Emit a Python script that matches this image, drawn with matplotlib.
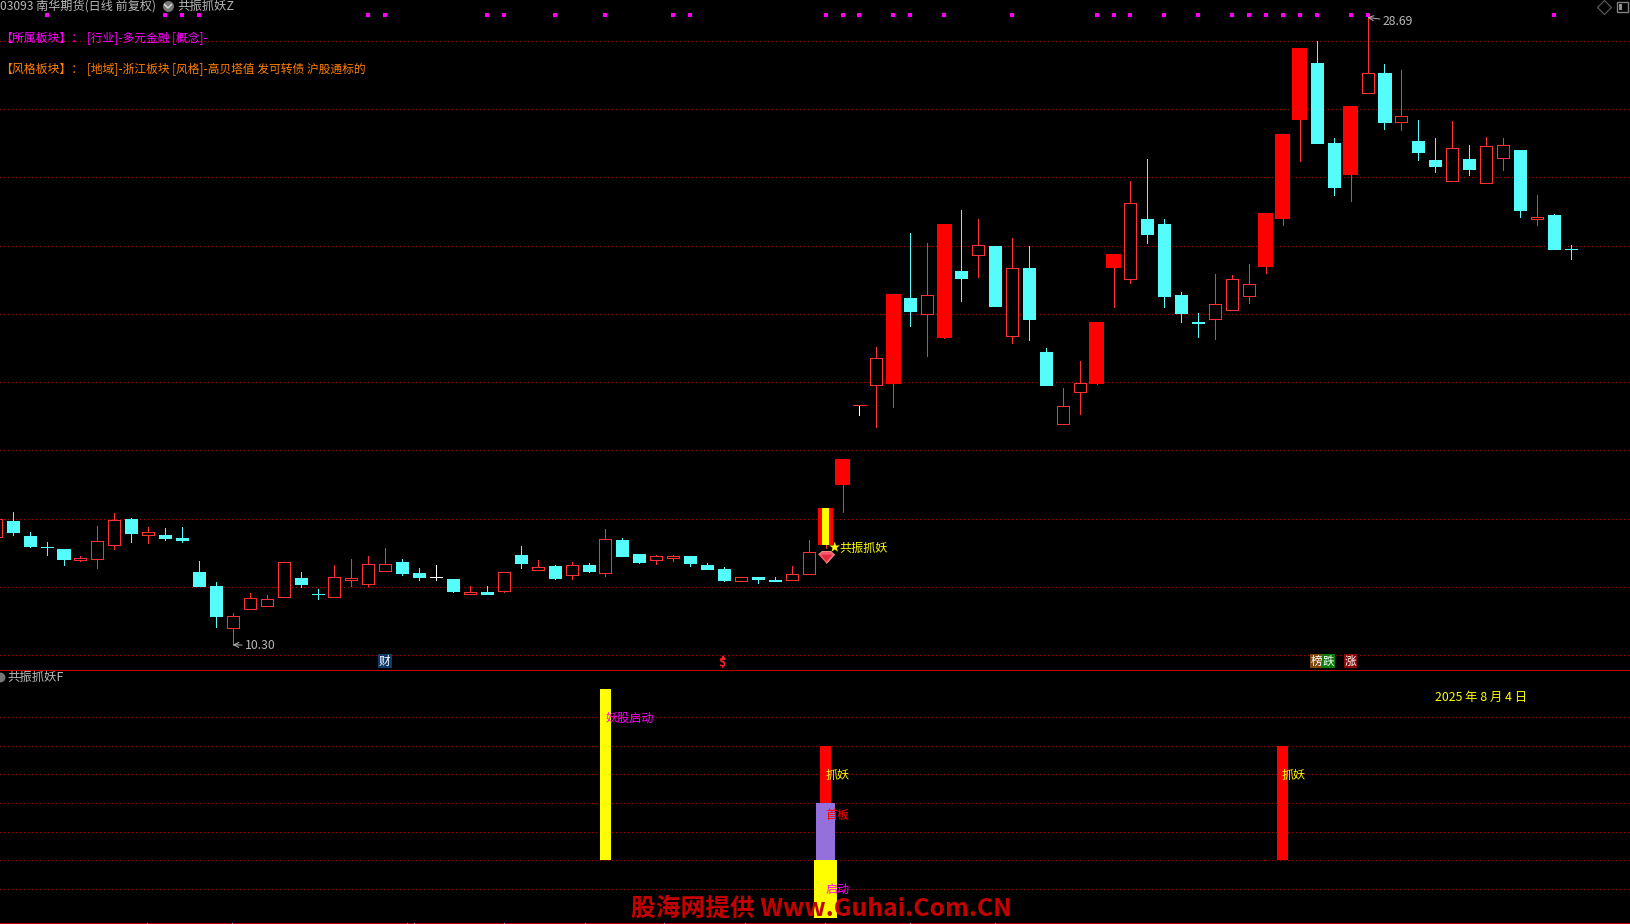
import matplotlib
matplotlib.use('Agg')
import numpy as np
import matplotlib.pyplot as plt
from matplotlib.patches import Rectangle

plt.rcParams['font.family'] = ['Noto Sans CJK SC', 'DejaVu Sans']

# daily candles, one value per session
opens = [13.45, 13.94, 13.50, 13.17, 13.12, 12.79, 12.80, 13.21, 14.00, 13.51,
         13.53, 13.44, 12.44, 12.03, 10.78, 11.34, 11.43, 11.69, 12.27, 11.80,
         11.69, 12.21, 12.07, 12.45, 12.74, 12.41, 12.30, 12.24, 11.80, 11.85,
         11.88, 12.94, 12.50, 12.62, 12.35, 12.65, 12.39, 13.38, 12.97, 12.77,
         12.83, 12.91, 12.65, 12.53, 12.16, 12.30, 12.21, 12.19, 12.36, 13.23,
         14.97, 17.33, 17.90, 17.95, 20.47, 19.99, 19.30, 21.27, 21.72, 22.00,
         19.34, 21.35, 18.89, 16.76, 17.70, 17.95, 21.33, 21.01, 22.79, 22.62,
         20.56, 19.77, 19.84, 20.11, 20.52, 21.38, 22.79, 25.69, 27.34, 25.02,
         24.08, 26.47, 27.07, 25.62, 25.08, 24.52, 23.89, 24.55, 23.83, 24.56,
         24.81, 22.79, 22.91, 21.91]
highs = [14.06, 14.20, 13.61, 13.32, 13.12, 12.91, 13.79, 14.17, 14.02, 13.76,
         13.73, 13.76, 12.76, 12.15, 11.24, 11.83, 11.77, 12.73, 12.44, 11.94,
         12.65, 12.82, 12.91, 13.15, 12.82, 12.56, 12.65, 12.24, 12.03, 12.03,
         12.43, 13.18, 12.79, 12.65, 12.74, 12.71, 13.70, 13.44, 12.97, 12.94,
         12.94, 12.91, 12.71, 12.59, 12.29, 12.30, 12.30, 12.62, 13.38, 14.32,
         15.75, 17.33, 19.04, 20.59, 22.38, 22.09, 22.64, 23.03, 22.79, 22.00,
         22.23, 22.00, 19.01, 17.84, 18.63, 19.77, 21.76, 23.90, 24.55, 22.79,
         20.65, 20.01, 21.18, 21.15, 21.47, 22.97, 25.28, 27.80, 28.00, 25.14,
         26.10, 28.69, 27.31, 27.16, 25.69, 25.14, 25.66, 24.96, 25.19, 25.14,
         24.81, 23.49, 22.94, 22.03]
lows = [13.45, 13.53, 13.17, 12.94, 12.65, 12.76, 12.56, 13.12, 13.32, 13.29,
        13.38, 13.32, 12.03, 10.83, 10.30, 11.34, 11.43, 11.69, 12.00, 11.65,
        11.69, 12.03, 12.03, 12.45, 12.35, 12.21, 12.21, 11.85, 11.80, 11.80,
        11.85, 12.56, 12.50, 12.24, 12.24, 12.44, 12.32, 12.91, 12.71, 12.68,
        12.76, 12.62, 12.53, 12.18, 12.16, 12.12, 12.18, 12.19, 12.36, 13.14,
        14.18, 17.02, 16.67, 17.28, 19.63, 18.77, 19.30, 20.39, 21.09, 20.24,
        19.14, 19.24, 17.90, 16.76, 17.07, 17.95, 20.21, 20.91, 22.09, 20.21,
        19.77, 19.33, 19.27, 20.11, 20.33, 21.21, 22.59, 24.49, 25.02, 23.47,
        23.32, 26.47, 25.43, 25.40, 24.52, 24.17, 23.89, 24.08, 23.83, 24.23,
        22.85, 22.59, 21.91, 21.62]
closes = [14.00, 13.61, 13.20, 13.17, 12.82, 12.85, 13.34, 13.96, 13.59, 13.60,
          13.44, 13.38, 12.03, 11.15, 11.14, 11.67, 11.64, 12.73, 12.09, 11.80,
          12.29, 12.27, 12.67, 12.67, 12.41, 12.30, 12.30, 11.88, 11.85, 11.80,
          12.43, 12.71, 12.58, 12.27, 12.64, 12.47, 13.40, 12.91, 12.73, 12.90,
          12.90, 12.71, 12.53, 12.21, 12.29, 12.24, 12.18, 12.38, 13.02, 14.32,
          15.75, 17.33, 18.71, 20.59, 20.09, 20.55, 22.64, 21.06, 22.02, 20.24,
          21.34, 19.86, 17.90, 17.30, 17.98, 19.77, 21.76, 23.25, 22.35, 20.53,
          20.01, 19.72, 20.29, 21.02, 20.88, 22.97, 25.28, 27.80, 25.02, 23.73,
          26.10, 27.06, 25.63, 25.80, 24.73, 24.34, 24.86, 24.26, 24.92, 24.95,
          23.05, 22.85, 21.91, 21.91]

limit_up = [49, 50, 53, 56, 65, 66, 75, 76, 77, 80]
flat_white = [26]
flat_red = [51]
signal_day = 49
top_dots = [3, 10, 11, 12, 22, 23, 29, 30, 33, 36, 40, 41, 49, 50, 51, 53, 54, 56,
            60, 65, 66, 67, 69, 71, 73, 74, 75, 76, 77, 78, 80, 81, 92]
price_grid = [10, 12, 14, 16, 18, 20, 22, 24, 26, 28]

# lower indicator columns
sub_x = [36, 49, 49, 49, 76]
sub_bottom = [2, 0, 2, 4, 2]
sub_top = [8, 2, 4, 6, 6]
sub_colors = ['#FFFF00', '#FFFF00', '#9370DB', '#FF0000', '#FF0000']
sub_width = [0.65, 1.36, 1.12, 0.65, 0.65]
sub_grid = [1, 2, 3, 4, 5, 6, 7]

W, H = 1631, 924
RED = '#FF3232'
CYAN = '#54FCFC'
GRID = '#A80000'
GREY = '#B8B8B8'

fig = plt.figure(figsize=(W / 100, H / 100), dpi=100, facecolor='black')

ax = fig.add_axes([0, 1 - 669.3 / H, 1, 669.3 / H], facecolor='black')
ax2 = fig.add_axes([0, 1 - 922.3 / H, 1, (922.3 - 669.3) / H], facecolor='black')
px = fig.add_axes([0, 0, 1, 1], facecolor='none')

for a in (ax, ax2):
    a.set_xlim(0.25, 96.555)
    a.set_xticks([])
    a.set_yticks([])
    for s in a.spines.values():
        s.set_visible(False)
ax.set_ylim(9.58, 29.20)
ax2.set_ylim(-0.165, 8.675)
px.set_xlim(0, W)
px.set_ylim(H, 0)
px.axis('off')

for p in price_grid:
    ax.axhline(p, color=GRID, lw=0.72, ls=(0, (1, 3)), antialiased=False, zorder=1)
for p in sub_grid:
    ax2.axhline(p, color=GRID, lw=0.72, ls=(0, (1, 3)), antialiased=False, zorder=1)

# candles
for i in range(len(opens)):
    o, h, l, c = opens[i], highs[i], lows[i], closes[i]
    if i in flat_white:
        wick = body = 'white'
    elif i in flat_red:
        wick, body = 'white', RED
    elif i in limit_up:
        wick, body = RED, '#FF0000'
    elif c > o:
        wick = body = RED
    else:
        wick = body = CYAN
    ax.vlines(i, l, h, color=wick, lw=0.72, antialiased=False, zorder=2)
    if i in limit_up:
        ax.bar(i, c - o, bottom=o, width=0.89, color='#FF0000', linewidth=0,
               antialiased=False, zorder=3)
    elif c > o and i not in flat_red:
        ax.bar(i, c - o, bottom=o, width=0.71, facecolor='black', edgecolor=body,
               linewidth=0.72, antialiased=False, zorder=3)
    else:
        ax.bar(i, c - o, bottom=o, width=0.71, facecolor=body, edgecolor=body,
               linewidth=0.72, antialiased=False, zorder=3)

# stripe on the signal day
ax.bar(signal_day, closes[signal_day] - opens[signal_day], bottom=opens[signal_day],
       width=0.42, color='#FFFF00', linewidth=0, antialiased=False, zorder=4)

# limit dots along the top
ax.plot(top_dots, [28.77] * len(top_dots), ls='none', marker='s', ms=2.4,
        color='#FF00FF', mew=0, zorder=5)

# gem under the signal candle
gem = [(-1, 0.35), (-0.55, 0.75), (0.55, 0.75), (1, 0.35), (0, -0.75)]
facet = [(-0.6, 0.3), (0.6, 0.3), (0, -0.45)]
ax.plot([signal_day], [12.88], ls='none', marker=gem, ms=11.5, mfc='#F45A6A',
        mec='#FFA0A0', mew=0.6, zorder=5)
ax.plot([signal_day], [12.88], ls='none', marker=facet, ms=8, mfc='#E8283C',
        mec='none', zorder=6)

ax.annotate('10.30', xy=(14, 10.30), xytext=(12, -1), textcoords='offset pixels',
            color=GREY, fontsize=8.8, va='center',
            arrowprops=dict(arrowstyle='->', color=GREY, lw=0.7, shrinkA=0, shrinkB=0))
ax.annotate('28.69', xy=(81, 28.69), xytext=(15, -4), textcoords='offset pixels',
            color=GREY, fontsize=8.8, va='center',
            arrowprops=dict(arrowstyle='->', color=GREY, lw=0.7, shrinkA=0, shrinkB=0))

# indicator panel
for x, b, t, col, w in zip(sub_x, sub_bottom, sub_top, sub_colors, sub_width):
    ax2.bar(x, t - b, bottom=b, width=w, color=col, linewidth=0,
            antialiased=False, zorder=2)

# frame lines
px.plot([0, W], [669.5, 669.5], color='#C00000', lw=0.72, antialiased=False)
px.plot([0, W], [922.5, 922.5], color='#C00000', lw=0.72, antialiased=False)
px.plot([232, 407], [923.5, 923.5], color='#2020C0', lw=0.72, antialiased=False)
for tx in [147, 232, 407, 414, 504, 585, 664, 745, 825, 910, 995]:
    px.plot([tx, tx], [922.5, 924], color=GREY, lw=0.7, antialiased=False)


def label(x, y, s, color, size=8.7, **kw):
    px.text(x, y, s, color=color, fontsize=size, va='center', ha='left', zorder=10, **kw)


# header
label(0, 6, '03093 南华期货(日线 前复权)', GREY, size=8.7)
px.scatter([168], [6], s=62, color='#777777', linewidth=0)
px.plot([164.5, 168, 171.5], [4.5, 8, 4.5], color='#DDDDDD', lw=1)
label(177, 6, '共振抓妖Z', GREY, size=8.9)
label(0, 38, '【所属板块】：', '#FF00FF', size=8.6)
label(86.7, 38, '[行业]-多元金融 [概念]-', '#FF00FF', size=8.5)
label(0, 69.7, '【风格板块】：', '#FF8000', size=8.6)
label(86.7, 69.7, '[地域]-浙江板块 [风格]-高贝塔值 发可转债 沪股通标的', '#FF8000', size=8.5)

# top right buttons
px.plot([1604], [6.5], marker='D', ms=7.5, mfc='none', mec='#606060', mew=0.8)
px.add_patch(Rectangle((1617.5, 1.5), 11, 10, fc='none', ec='#808080', lw=1))
px.add_patch(Rectangle((1619.5, 3.5), 3, 6, fc='#909090', ec='none'))

# signal text
label(829, 548, '★', '#FFFF00', size=8.2)
label(839, 548, '共振抓妖', '#FFFF00')

# event tags
label(379, 661, '财', 'white', size=8.4,
      bbox=dict(boxstyle='square,pad=0.08', fc='#103A6A', ec='none'))
label(718.5, 663, '$', '#FF2020', size=9, fontweight='bold')
px.plot([722.7], [657], marker='^', ms=3.5, color='#FF2020', mew=0)
label(1310.5, 661, '榜', 'white', size=8.4,
      bbox=dict(boxstyle='square,pad=0.05', fc='#7A4A10', ec='none'))
label(1322.8, 661, '跌', 'white', size=8.4,
      bbox=dict(boxstyle='square,pad=0.05', fc='#0A7A0A', ec='none'))
label(1345, 661, '涨', 'white', size=8.4,
      bbox=dict(boxstyle='square,pad=0.05', fc='#8A0A0A', ec='none'))

# indicator panel text
px.scatter([0], [677], s=50, color='#777777', linewidth=0)
label(7, 677.7, '共振抓妖F', GREY, size=8.9)
label(1435, 697, '2025 年 8 月 4 日', '#FFFF00', size=8.9)
label(605.7, 718, '妖股启动', '#FF00FF')
label(825.7, 775, '抓妖', '#FFFF00')
label(825.7, 815, '首板', '#FF0000')
label(825.7, 889, '启动', '#FF00FF')
label(1282, 775, '抓妖', '#FFFF00')

# site stamp
px.text(631, 909, '股海网提供 Www.Guhai.Com.CN', color='#C40000', fontsize=17.8,
        fontweight='bold', va='center', ha='left', zorder=12)

fig.savefig('out.png', dpi=100, facecolor='black')
